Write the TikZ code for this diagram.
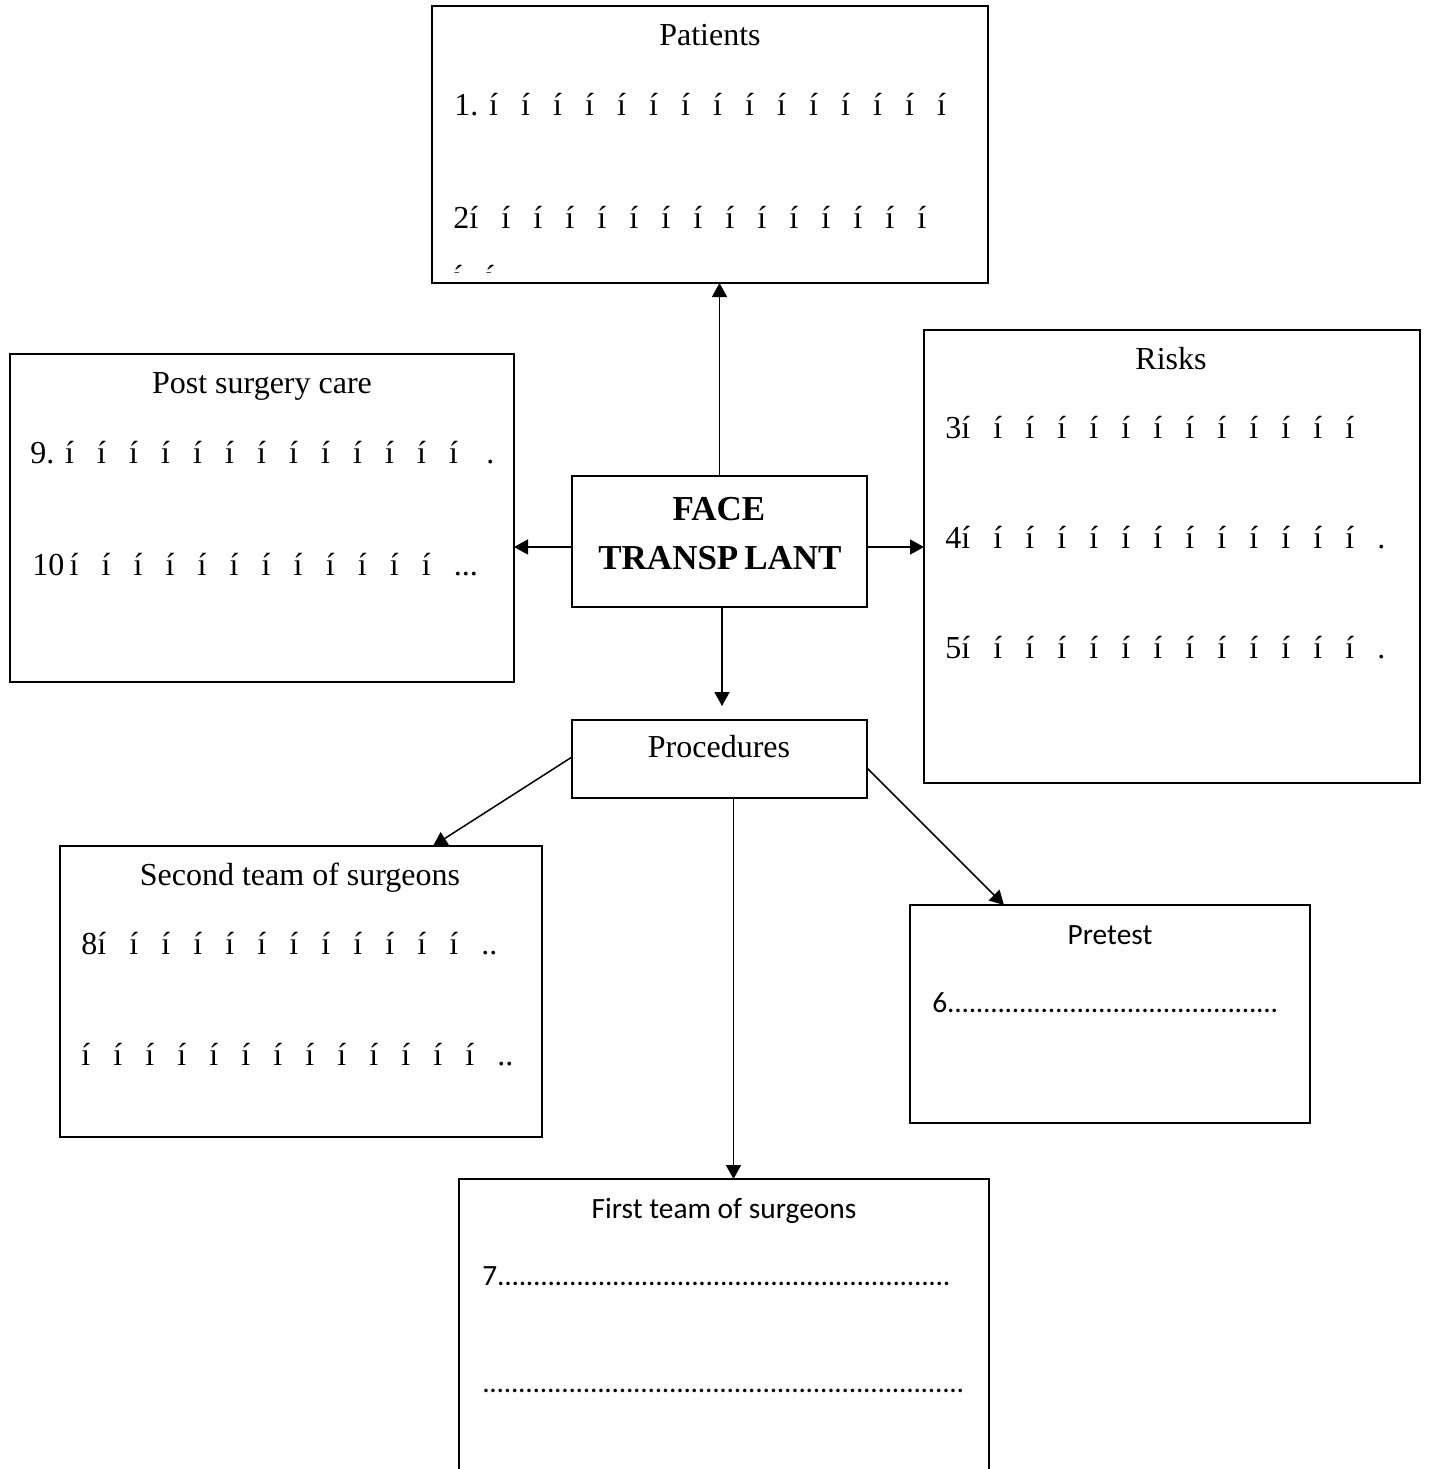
\documentclass[tikz,border=0pt]{standalone}
\usepackage{fontspec}
\setmainfont{Liberation Serif}
\newfontfamily\calfont{Carlito}
\usetikzlibrary{arrows.meta,positioning}

\newcommand{\irow}[1]{\foreach \k in {1,...,#1}{\makebox[1em][l]{í}}}
\newcommand{\dotrow}[1]{\hbox to #1{\leaders\hbox to 3.6pt{\hss.\hss}\hfill}}

\tikzset{
  box/.style={draw, line width=0.9pt, anchor=north west, inner sep=0pt, outer sep=0pt},
  arr/.style={line width=0.75pt, -{Triangle[length=7pt,width=7.5pt]}},
  ttl/.style={anchor=base, inner sep=0pt, font=\fontsize{16pt}{19pt}\selectfont},
  txt/.style={anchor=base west, inner sep=0pt, font=\fontsize{16pt}{19pt}\selectfont},
  cttl/.style={anchor=base, inner sep=0pt, font=\calfont\fontsize{14.7pt}{17pt}\selectfont},
  ctxt/.style={anchor=base west, inner sep=0pt, font=\calfont\fontsize{14.7pt}{17pt}\selectfont},
  big/.style={anchor=base, inner sep=0pt, font=\bfseries\fontsize{17.5pt}{21pt}\selectfont}
}

\begin{document}
\begin{tikzpicture}[x=0.5pt,y=-0.5pt]
  \clip (0,0) rectangle (1429,1469);
  % boxes
  \node[box, minimum width=278pt, minimum height=138.5pt] (pat) at (432,6) {};
  \node[box, minimum width=252pt, minimum height=164pt] (post) at (10,354) {};
  \node[box, minimum width=147.5pt, minimum height=65.5pt] (face) at (572,476) {};
  \node[box, minimum width=248pt, minimum height=226.5pt] (risk) at (924,330) {};
  \node[box, minimum width=147.5pt, minimum height=39pt] (proc) at (572,720) {};
  \node[box, minimum width=241pt, minimum height=145.5pt] (sec) at (60,846) {};
  \node[box, minimum width=200pt, minimum height=109pt] (pre) at (910,905) {};
  \node[box, minimum width=265pt, minimum height=160.5pt] (first) at (459,1179) {};

  % centre box
  \node[big] (face1) at (719,520) {FACE};
  \node[big] (face2) at (720,569) {TRANSP\kern3pt LANT};
  \node[ttl] (proct) at (719,757) {Procedures};

  % patients
  \node[ttl] (patt) at (710,45) {Patients};
  \node[txt] (pat1) at (454,115) {1. \irow{15}};
  \node[txt] (pat2) at (453,228) {2\irow{15}};
  \begin{scope}
    \clip (pat.north west) rectangle ([yshift=5.5pt]pat.south east);
    \node[txt] (pat3) at (453,287) {\irow{2}};
  \end{scope}

  % post surgery care
  \node[ttl] (postt) at (262,393) {Post surgery care};
  \node[txt] (post1) at (30,463) {9. \irow{13}\,.};
  \node[txt] (post2) at (32,575) {10\,\irow{12}...};

  % risks
  \node[ttl] (riskt) at (1171,369) {Risks};
  \node[txt] (risk1) at (945,438) {3\irow{13}};
  \node[txt] (risk2) at (945,548) {4\irow{13}.};
  \node[txt] (risk3) at (945,658) {5\irow{13}.};

  % second team
  \node[ttl] (sect) at (300,885) {Second team of surgeons};
  \node[txt] (sec1) at (81,954) {8\irow{12}..};
  \node[txt] (sec2) at (81,1065) {\irow{13}..};

  % pretest
  \node[cttl] (pret) at (1110,944) {Pretest};
  \node[ctxt] (pre1) at (932,1012) {6\dotrow{167pt}};

  % first team
  \node[cttl] (firstt) at (724,1218) {First team of surgeons};
  \node[ctxt] (first1) at (482,1285) {7\dotrow{229pt}};
  \node[ctxt] (first2) at (482,1392) {\dotrow{242pt}};

  % arrows
  \draw[arr] (face.north) -- (face.north |- pat.south);
  \draw[arr] ([yshift=-2.75pt]face.west) -- ([yshift=-2.75pt]face.west -| post.east);
  \draw[arr] ([yshift=-2.75pt]face.east) -- ([yshift=-2.75pt]face.east -| risk.west);
  \draw[arr, shorten >=7pt] ([xshift=1.25pt]face.south) -- ([xshift=1.25pt]face.south |- proc.north);
  \draw[arr] ([yshift=1pt]proc.west) -- ([xshift=66pt]sec.north);
  \draw[arr] ([xshift=7pt]proc.south) -- ([xshift=7pt]proc.south |- first.north);
  \draw[arr] ([yshift=-4.5pt]proc.east) -- ([xshift=-53pt]pre.north);
\end{tikzpicture}
\end{document}
